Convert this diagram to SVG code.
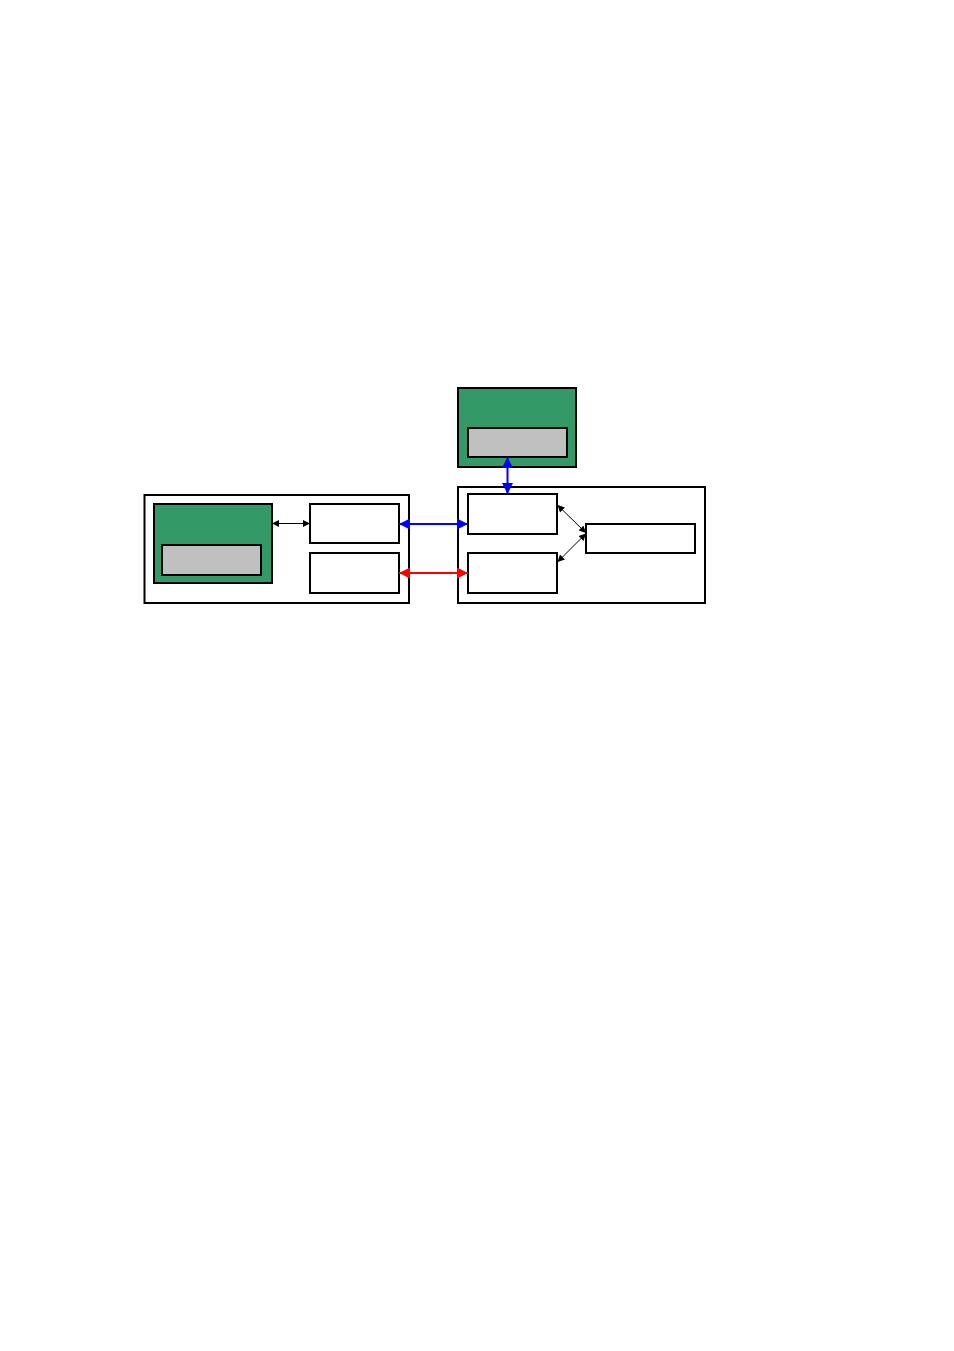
<svg xmlns="http://www.w3.org/2000/svg" width="954" height="1351" viewBox="0 0 954 1351">
<style>
.frame{fill:#fff;stroke:#000;stroke-width:2}
.green{fill:#339966;stroke:#000;stroke-width:2}
.gray{fill:#c0c0c0;stroke:#000;stroke-width:2}
.box{fill:#fff;stroke:#000;stroke-width:2}
.blk{stroke:#000;stroke-width:1;fill:none}
.blu{stroke:#0000ff;stroke-width:2;fill:none}
.red{stroke:#ff0000;stroke-width:2;fill:none}
</style>
<defs>
<marker id="mb" viewBox="0 0 10 10" refX="10" refY="5" markerWidth="8" markerHeight="7" markerUnits="userSpaceOnUse" orient="auto-start-reverse"><path d="M0,0L10,5L0,10z" fill="#000"/></marker>
<marker id="mblue" viewBox="0 0 10 10" refX="10" refY="5" markerWidth="11" markerHeight="11" markerUnits="userSpaceOnUse" orient="auto-start-reverse"><path d="M0,0L10,5L0,10z" fill="#0000ff"/></marker>
<marker id="mred" viewBox="0 0 10 10" refX="10" refY="5" markerWidth="11" markerHeight="11" markerUnits="userSpaceOnUse" orient="auto-start-reverse"><path d="M0,0L10,5L0,10z" fill="#ff0000"/></marker>
</defs>
<rect width="954" height="1351" fill="#fff"/>
<g id="left-panel">
<rect class="frame" x="144.5" y="495" width="264.5" height="108"/>
</g>
<g id="left-green">
<rect class="green" x="154" y="504" width="118" height="79"/>
<rect class="gray" x="162" y="545" width="99" height="30"/>
</g>
<g id="left-box-top"><rect class="box" x="310" y="504" width="89" height="39"/></g>
<g id="left-box-bottom"><rect class="box" x="310" y="553" width="89" height="40"/></g>
<g id="right-panel">
<rect class="frame" x="458" y="487" width="247" height="116"/>
</g>
<g id="top-green">
<rect class="green" x="458" y="388" width="118" height="79"/>
<rect class="gray" x="468" y="428" width="99" height="29"/>
</g>
<g id="right-box-a"><rect class="box" x="468" y="494" width="89" height="40"/></g>
<g id="right-box-b"><rect class="box" x="468" y="553" width="89" height="40"/></g>
<g id="right-box-c"><rect class="box" x="586" y="524" width="109" height="29"/></g>
<g id="connectors">
<line class="blk" x1="272" y1="523.5" x2="310" y2="523.5" marker-start="url(#mb)" marker-end="url(#mb)"/>
<line class="blu" x1="507.5" y1="457" x2="507.5" y2="494" marker-start="url(#mblue)" marker-end="url(#mblue)"/>
<line class="blu" x1="399" y1="524" x2="468" y2="524" marker-start="url(#mblue)" marker-end="url(#mblue)"/>
<line class="red" x1="399" y1="573" x2="468" y2="573" marker-start="url(#mred)" marker-end="url(#mred)"/>
<line class="blk" x1="557.5" y1="505" x2="586" y2="533" marker-start="url(#mb)" marker-end="url(#mb)"/>
<line class="blk" x1="557.5" y1="562" x2="586" y2="533.5" marker-start="url(#mb)" marker-end="url(#mb)"/>
</g>
</svg>
